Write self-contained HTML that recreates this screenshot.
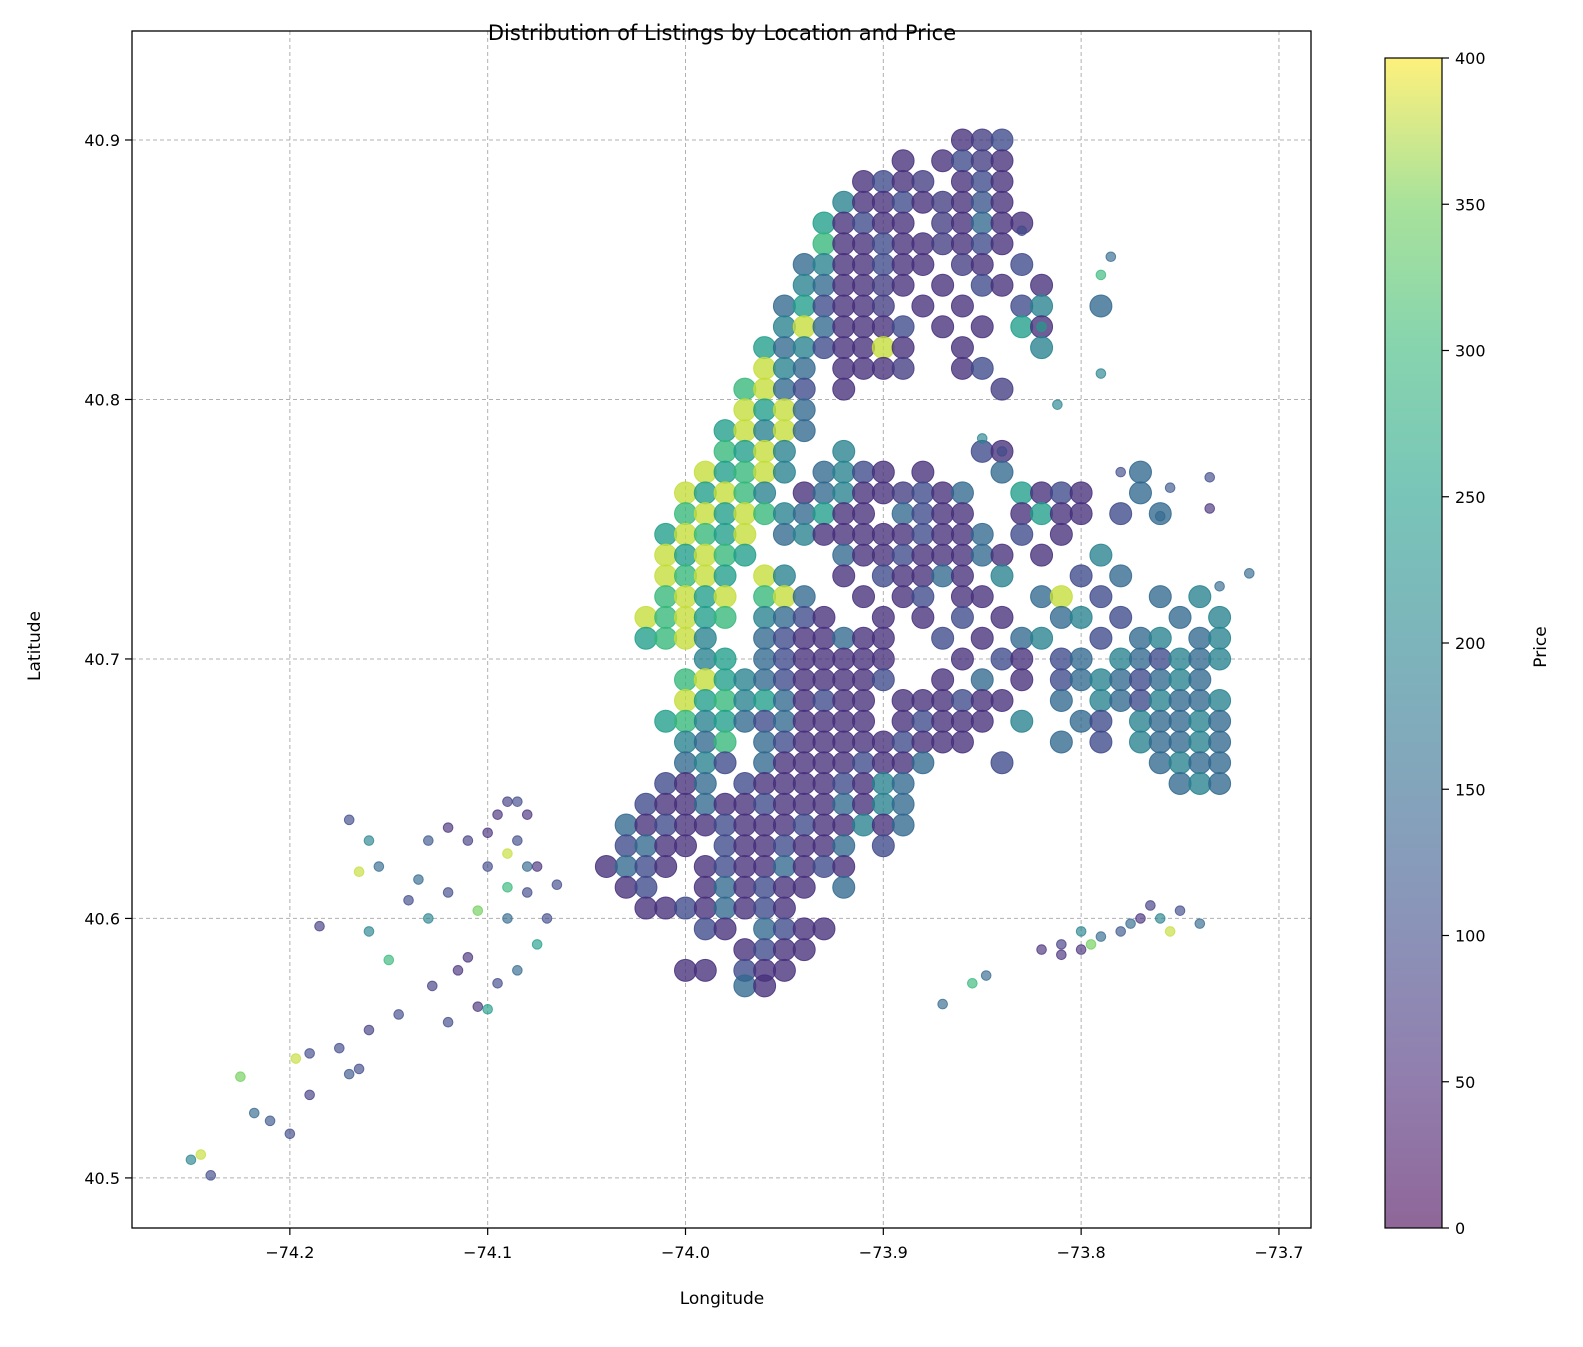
<!DOCTYPE html>
<html><head><meta charset="utf-8">
<style>
html,body{margin:0;padding:0;background:#fff;}
body{width:1583px;height:1342px;overflow:hidden;font-family:"Liberation Sans","DejaVu Sans",sans-serif;}
</style></head>
<body>
<svg id="chart" width="1583" height="1342" xmlns="http://www.w3.org/2000/svg" font-family="'DejaVu Sans','Liberation Sans',sans-serif">
<defs>
<linearGradient id="vir" x1="0" y1="1" x2="0" y2="0">
<stop offset="0" stop-color="#440154"/><stop offset="0.125" stop-color="#482878"/>
<stop offset="0.25" stop-color="#3e4989"/><stop offset="0.375" stop-color="#31688e"/>
<stop offset="0.5" stop-color="#26828e"/><stop offset="0.625" stop-color="#1f9e89"/>
<stop offset="0.75" stop-color="#35b779"/><stop offset="0.875" stop-color="#6ece58"/>
<stop offset="1" stop-color="#fde725"/>
</linearGradient>
<clipPath id="plotclip"><rect x="132" y="31" width="1179" height="1197"/></clipPath>
</defs>
<text x="722" y="40" text-anchor="middle" font-size="21">Distribution of Listings by Location and Price</text>
<g id="grid"></g>
<g id="points" clip-path="url(#plotclip)"></g>
<rect x="132" y="31" width="1179" height="1197" fill="none" stroke="#000" stroke-width="1.3"/>
<g id="xticks"></g>
<g id="yticks"></g>
<text x="722" y="1304" text-anchor="middle" font-size="17">Longitude</text>
<text transform="translate(40,646) rotate(-90)" text-anchor="middle" font-size="17">Latitude</text>
<rect x="1385" y="58" width="57" height="1170" fill="url(#vir)" opacity="0.6"/>
<rect x="1385" y="58" width="57" height="1170" fill="none" stroke="#000" stroke-width="1.2"/>
<g id="cticks"></g>
<text transform="translate(1546,647) rotate(-90)" text-anchor="middle" font-size="17">Price</text>
</svg>
<script>
const xTickVals = [-74.2, -74.1, -74.0, -73.9, -73.8, -73.7];
const xTickLabels = ["\u221274.2", "\u221274.1", "\u221274.0", "\u221273.9", "\u221273.8", "\u221273.7"];
const yTickVals = [40.5, 40.6, 40.7, 40.8, 40.9];
const yTickLabels = ["40.5", "40.6", "40.7", "40.8", "40.9"];
const cTickVals = [0, 50, 100, 150, 200, 250, 300, 350, 400];

const rowLat = [40.900,40.892,40.884,40.876,40.868,40.860,40.852,40.844,40.836,40.828,40.820,40.812,40.804,40.796,40.788,40.780,40.772,40.764,40.756,40.748,40.740,40.732,40.724,40.716,40.708,40.700,40.692,40.684,40.676,40.668,40.660,40.652,40.644,40.636,40.628,40.620,40.612,40.604,40.596,40.588,40.580,40.574];
const rowLon = [
[-73.86,-73.85,-73.84],
[-73.89,-73.87,-73.86,-73.85,-73.84],
[-73.91,-73.90,-73.89,-73.88,-73.86,-73.85,-73.84],
[-73.92,-73.91,-73.90,-73.89,-73.88,-73.87,-73.86,-73.85,-73.84],
[-73.93,-73.92,-73.91,-73.90,-73.89,-73.87,-73.86,-73.85,-73.84,-73.83],
[-73.93,-73.92,-73.91,-73.90,-73.89,-73.88,-73.87,-73.86,-73.85,-73.84],
[-73.94,-73.93,-73.92,-73.91,-73.90,-73.89,-73.88,-73.86,-73.85,-73.83],
[-73.94,-73.93,-73.92,-73.91,-73.90,-73.89,-73.87,-73.85,-73.84,-73.82],
[-73.95,-73.94,-73.93,-73.92,-73.91,-73.90,-73.88,-73.86,-73.83,-73.82,-73.79],
[-73.95,-73.94,-73.93,-73.92,-73.91,-73.90,-73.89,-73.87,-73.85,-73.83,-73.82],
[-73.96,-73.95,-73.94,-73.93,-73.92,-73.91,-73.90,-73.89,-73.86,-73.82],
[-73.96,-73.95,-73.94,-73.92,-73.91,-73.90,-73.89,-73.86,-73.85],
[-73.97,-73.96,-73.95,-73.94,-73.92,-73.84],
[-73.97,-73.96,-73.95,-73.94],
[-73.98,-73.97,-73.96,-73.95,-73.94],
[-73.98,-73.97,-73.96,-73.95,-73.92,-73.85,-73.84],
[-73.99,-73.98,-73.97,-73.96,-73.95,-73.93,-73.92,-73.91,-73.90,-73.88,-73.84,-73.77],
[-74.00,-73.99,-73.98,-73.97,-73.96,-73.94,-73.93,-73.92,-73.91,-73.90,-73.89,-73.88,-73.87,-73.86,-73.83,-73.82,-73.81,-73.80,-73.77],
[-74.00,-73.99,-73.98,-73.97,-73.96,-73.95,-73.94,-73.93,-73.92,-73.91,-73.89,-73.88,-73.87,-73.86,-73.83,-73.82,-73.81,-73.80,-73.78,-73.76],
[-74.01,-74.00,-73.99,-73.98,-73.97,-73.95,-73.94,-73.93,-73.92,-73.91,-73.90,-73.89,-73.88,-73.87,-73.86,-73.85,-73.83,-73.81],
[-74.01,-74.00,-73.99,-73.98,-73.97,-73.92,-73.91,-73.90,-73.89,-73.88,-73.87,-73.86,-73.85,-73.84,-73.82,-73.79],
[-74.01,-74.00,-73.99,-73.98,-73.96,-73.95,-73.92,-73.90,-73.89,-73.88,-73.87,-73.86,-73.84,-73.80,-73.78],
[-74.01,-74.00,-73.99,-73.98,-73.96,-73.95,-73.94,-73.91,-73.89,-73.88,-73.86,-73.85,-73.82,-73.81,-73.79,-73.76,-73.74],
[-74.02,-74.01,-74.00,-73.99,-73.98,-73.96,-73.95,-73.94,-73.93,-73.90,-73.88,-73.86,-73.84,-73.81,-73.80,-73.78,-73.75,-73.73],
[-74.02,-74.01,-74.00,-73.99,-73.96,-73.95,-73.94,-73.93,-73.92,-73.91,-73.90,-73.87,-73.85,-73.83,-73.82,-73.79,-73.77,-73.76,-73.74,-73.73],
[-73.99,-73.98,-73.96,-73.95,-73.94,-73.93,-73.92,-73.91,-73.90,-73.86,-73.84,-73.83,-73.81,-73.80,-73.78,-73.77,-73.76,-73.75,-73.74,-73.73],
[-74.00,-73.99,-73.98,-73.97,-73.96,-73.95,-73.94,-73.93,-73.92,-73.91,-73.90,-73.87,-73.85,-73.83,-73.81,-73.80,-73.79,-73.78,-73.77,-73.76,-73.75,-73.74],
[-74.00,-73.99,-73.98,-73.97,-73.96,-73.95,-73.94,-73.93,-73.92,-73.91,-73.89,-73.88,-73.87,-73.86,-73.85,-73.84,-73.81,-73.79,-73.78,-73.77,-73.76,-73.75,-73.74,-73.73],
[-74.01,-74.00,-73.99,-73.98,-73.97,-73.96,-73.95,-73.94,-73.93,-73.92,-73.91,-73.89,-73.88,-73.87,-73.86,-73.85,-73.83,-73.80,-73.79,-73.77,-73.76,-73.75,-73.74,-73.73],
[-74.00,-73.99,-73.98,-73.96,-73.95,-73.94,-73.93,-73.92,-73.91,-73.90,-73.89,-73.88,-73.87,-73.86,-73.81,-73.79,-73.77,-73.76,-73.75,-73.74,-73.73],
[-74.00,-73.99,-73.98,-73.96,-73.95,-73.94,-73.93,-73.92,-73.91,-73.90,-73.89,-73.88,-73.84,-73.76,-73.75,-73.74,-73.73],
[-74.01,-74.00,-73.99,-73.97,-73.96,-73.95,-73.94,-73.93,-73.92,-73.91,-73.90,-73.89,-73.75,-73.74,-73.73],
[-74.02,-74.01,-74.00,-73.99,-73.98,-73.97,-73.96,-73.95,-73.94,-73.93,-73.92,-73.91,-73.90,-73.89],
[-74.03,-74.02,-74.01,-74.00,-73.99,-73.98,-73.97,-73.96,-73.95,-73.94,-73.93,-73.92,-73.91,-73.90,-73.89],
[-74.03,-74.02,-74.01,-74.00,-73.98,-73.97,-73.96,-73.95,-73.94,-73.93,-73.92,-73.90],
[-74.04,-74.03,-74.02,-74.01,-73.99,-73.98,-73.97,-73.96,-73.95,-73.94,-73.93,-73.92],
[-74.03,-74.02,-73.99,-73.98,-73.97,-73.96,-73.95,-73.94,-73.92],
[-74.02,-74.01,-74.00,-73.99,-73.98,-73.97,-73.96,-73.95],
[-73.99,-73.98,-73.96,-73.95,-73.94,-73.93],
[-73.97,-73.96,-73.95,-73.94],
[-74.00,-73.99,-73.97,-73.96,-73.95],
[-73.97,-73.96]
];
const rowPrice = [
[60,80,100],
[60,60,100,80,60],
[60,100,60,80,60,100,60],
[200,60,60,100,60,80,60,120,60],
[250,60,100,60,60,80,60,150,60,60],
[300,60,60,100,60,60,80,60,100,60],
[150,200,60,60,100,60,60,80,60,100],
[200,150,60,60,80,60,60,100,60,60],
[150,250,100,60,60,80,60,60,100,200,150],
[200,380,150,60,60,60,100,60,60,250,60],
[250,150,200,100,60,60,380,60,60,200],
[380,200,150,60,60,60,80,60,100],
[300,380,150,100,60,80],
[380,250,380,150],
[250,380,200,380,150],
[300,250,380,200,200,100,60],
[380,250,300,380,200,150,200,100,60,60,150,150],
[380,250,380,300,200,60,150,200,60,60,80,100,60,150,250,60,100,60,150],
[300,380,250,380,300,200,150,250,60,60,150,100,60,60,60,250,60,60,100,150],
[250,380,300,250,380,150,200,60,60,60,60,60,100,60,60,150,100,60],
[380,250,380,300,250,150,60,60,100,60,60,60,150,60,60,200],
[380,300,380,250,380,200,60,100,60,60,150,60,200,100,150],
[300,380,250,380,300,380,150,60,60,100,60,60,150,380,100,150,200],
[380,300,380,250,300,200,150,100,60,60,60,100,60,150,200,100,150,200],
[250,300,380,200,150,100,60,60,150,60,60,100,60,150,200,100,150,200,150,200],
[200,250,150,100,60,60,60,60,60,60,100,60,100,150,200,150,100,200,150,200],
[300,380,250,200,150,100,60,60,60,60,100,60,150,60,100,150,200,150,100,150,200,150],
[380,250,300,200,250,150,60,100,60,60,60,60,60,100,60,60,150,200,150,100,200,150,150,200],
[250,300,200,250,150,100,150,60,60,60,60,60,100,60,60,60,200,150,100,200,150,150,200,150],
[200,150,300,150,100,60,60,60,60,60,100,60,60,60,150,100,200,150,150,200,150],
[150,200,100,150,60,60,60,60,100,60,60,150,100,150,200,150,150],
[100,60,150,100,60,60,60,60,100,60,200,150,150,200,150],
[100,60,60,150,60,60,100,60,60,60,150,60,200,150],
[150,60,100,60,60,100,60,60,60,100,60,60,200,60,150],
[100,150,60,60,100,60,60,100,60,60,150,100],
[60,150,100,60,60,100,60,60,150,60,100,60],
[60,100,60,150,60,100,60,60,150],
[60,60,100,60,150,60,100,60],
[100,60,150,100,60,60],
[60,100,60,60],
[60,60,100,60,60],
[150,60]
];
const sparseLon = [-74.25,-74.245,-74.24,-74.225,-74.218,-74.21,-74.2,-74.197,-74.19,-74.19,-74.185,-74.175,-74.17,-74.165,-74.16,-74.17,-74.165,-74.16,-74.155,-74.15,-74.16,-74.14,-74.145,-74.13,-74.13,-74.128,-74.12,-74.12,-74.11,-74.115,-74.11,-74.105,-74.1,-74.1,-74.1,-74.095,-74.09,-74.085,-74.08,-74.09,-74.085,-74.09,-74.085,-74.075,-74.08,-74.07,-74.065,-74.075,-74.095,-74.12,-74.135,-74.105,-74.09,-74.08,
-73.87,-73.855,-73.848,-73.82,-73.81,-73.8,-73.795,-73.79,-73.78,-73.77,-73.765,-73.76,-73.755,-73.75,-73.74,-73.8,-73.81,-73.775,
-73.715,-73.73,-73.735,-73.735,-73.755,-73.76,-73.78,-73.79,-73.785,-73.79,-73.82,-73.812,-73.83,-73.84,-73.85];
const sparseLat = [40.507,40.509,40.501,40.539,40.525,40.522,40.517,40.546,40.548,40.532,40.597,40.55,40.54,40.542,40.557,40.638,40.618,40.63,40.62,40.584,40.595,40.607,40.563,40.63,40.6,40.574,40.635,40.56,40.63,40.58,40.585,40.566,40.565,40.62,40.633,40.64,40.645,40.645,40.64,40.625,40.63,40.6,40.58,40.59,40.61,40.6,40.613,40.62,40.575,40.61,40.615,40.603,40.612,40.62,
40.567,40.575,40.578,40.588,40.59,40.595,40.59,40.593,40.595,40.6,40.605,40.6,40.595,40.603,40.598,40.588,40.586,40.598,
40.733,40.728,40.77,40.758,40.766,40.755,40.772,40.848,40.855,40.81,40.828,40.798,40.865,40.78,40.785];
const sparsePrice = [200,380,100,350,150,120,100,380,100,80,80,100,120,100,80,100,380,200,150,300,200,100,100,120,200,80,60,100,80,60,60,60,250,100,60,60,80,100,60,380,100,150,150,250,100,100,100,60,100,100,150,350,300,150,
150,300,150,60,80,200,350,150,120,60,80,200,380,100,150,60,60,150,
150,150,100,60,120,150,100,300,150,200,250,200,100,100,200];

const X0 = 132, X1 = 1311, Y0 = 31, Y1 = 1228;
const LON0 = -74.2798, LON1 = -73.6838, LAT0 = 40.4807, LAT1 = 40.942;
function xs(v){ return X0 + (v - LON0) / (LON1 - LON0) * (X1 - X0); }
function ys(v){ return Y1 - (v - LAT0) / (LAT1 - LAT0) * (Y1 - Y0); }
function cs(v){ return 1228 - v / 400 * 1170; }
const VIR = [[68,1,84],[72,40,120],[62,73,137],[49,104,142],[38,130,142],[31,158,137],[53,183,121],[110,206,88],[253,231,37]];
function viridis(p){
  let t = Math.max(0, Math.min(1, p / 400)) * 8;
  let i = Math.min(7, Math.floor(t)), f = t - i;
  const a = VIR[i], b = VIR[i+1];
  return 'rgb(' + [0,1,2].map(k => Math.round(a[k] + (b[k]-a[k])*f)).join(',') + ')';
}
const NS = 'http://www.w3.org/2000/svg';
function mk(tag, attrs, parent){
  const e = document.createElementNS(NS, tag);
  for (const k in attrs) e.setAttribute(k, attrs[k]);
  parent.appendChild(e); return e;
}
const grid = document.getElementById('grid');
const xt = document.getElementById('xticks');
const yt = document.getElementById('yticks');
xTickVals.forEach((v, i) => {
  const x = xs(v);
  const g = mk('line', {x1:x, x2:x, y1:Y0, y2:Y1, stroke:'#b0b0b0', 'stroke-width':1, 'stroke-dasharray':'4,3'}, grid);
  
  
  const t = mk('line', {x1:x, x2:x, y1:Y1, y2:Y1+7, stroke:'#000', 'stroke-width':1.2}, xt);
  
  
  const l = mk('text', {x:x, y:Y1+30, 'text-anchor':'middle', 'font-size':16}, xt);
  l.textContent = xTickLabels[i];
  
  
});
yTickVals.forEach((v, i) => {
  const y = ys(v);
  const g = mk('line', {x1:X0, x2:X1, y1:y, y2:y, stroke:'#b0b0b0', 'stroke-width':1, 'stroke-dasharray':'4,3'}, grid);
  
  
  const t = mk('line', {x1:X0-7, x2:X0, y1:y, y2:y, stroke:'#000', 'stroke-width':1.2}, yt);
  
  
  const l = mk('text', {x:X0-12, y:y+6, 'text-anchor':'end', 'font-size':16}, yt);
  l.textContent = yTickLabels[i];
  
  
});
const ct = document.getElementById('cticks');
cTickVals.forEach(v => {
  const y = cs(v);
  const t = mk('line', {x1:1442, x2:1449, y1:y, y2:y, stroke:'#000', 'stroke-width':1.2}, ct);
  
  
  const l = mk('text', {x:1455, y:y+6, 'font-size':16}, ct);
  l.textContent = String(v);
  
  
});
const pts = document.getElementById('points');
rowLat.forEach((lat, r) => {
  rowLon[r].forEach((lon, j) => {
    const p = rowPrice[r][j] !== undefined ? rowPrice[r][j] : 100;
    const c = viridis(p);
    const d = mk('circle', {cx:xs(lon), cy:ys(lat), r:11, fill:c, 'fill-opacity':0.78, stroke:c, 'stroke-opacity':0.85, 'stroke-width':1}, pts);
    
    
  });
});
sparseLon.forEach((lon, i) => {
  const c = viridis(sparsePrice[i]);
  const d = mk('circle', {cx:xs(lon), cy:ys(sparseLat[i]), r:4.8, fill:c, 'fill-opacity':0.65, stroke:c, 'stroke-opacity':0.75, 'stroke-width':1}, pts);
  
  
});
</script>
</body></html>
